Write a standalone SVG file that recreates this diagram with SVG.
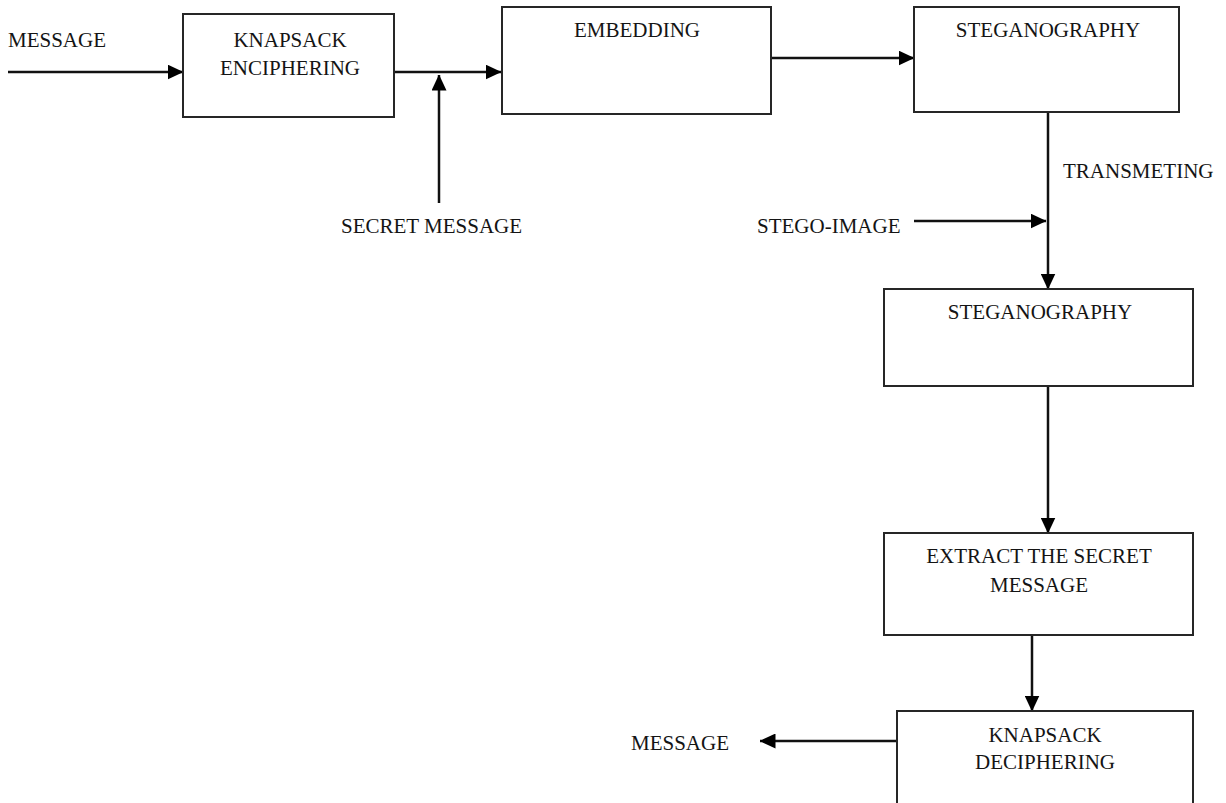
<svg xmlns="http://www.w3.org/2000/svg" width="1226" height="803" viewBox="0 0 1226 803">
<defs>
<style>
.box{fill:#fff;stroke:#262626;stroke-width:2}
.t{font-family:"Liberation Serif","Times New Roman",serif;font-size:21px;fill:#141414}
.c{text-anchor:middle}
.ln{stroke:#111;stroke-width:2.5;fill:none}
</style>
<marker id="ah" markerUnits="userSpaceOnUse" markerWidth="16" markerHeight="15" viewBox="0 0 16 15" refX="15.5" refY="7.5" orient="auto">
<path d="M0,0 L16,7.5 L0,15 Z" fill="#000"/>
</marker>
</defs>
<rect width="1226" height="803" fill="#fff"/>
<g id="connectors">
<line class="ln" x1="8" y1="72" x2="183" y2="72" marker-end="url(#ah)"/>
<line class="ln" x1="394" y1="72" x2="501" y2="72" marker-end="url(#ah)"/>
<line class="ln" x1="439" y1="203" x2="439" y2="75" marker-end="url(#ah)"/>
<line class="ln" x1="771" y1="58" x2="914" y2="58" marker-end="url(#ah)"/>
<line class="ln" x1="1048" y1="112" x2="1048" y2="289" marker-end="url(#ah)"/>
<line class="ln" x1="914" y1="221" x2="1046" y2="221" marker-end="url(#ah)"/>
<line class="ln" x1="1048" y1="386" x2="1048" y2="533" marker-end="url(#ah)"/>
<line class="ln" x1="1032" y1="635" x2="1032" y2="711" marker-end="url(#ah)"/>
<line class="ln" x1="897" y1="741" x2="760" y2="741" marker-end="url(#ah)"/>
</g>
<g id="msg-in"><text class="t" x="8" y="47">MESSAGE</text></g>
<g id="secret-msg"><text class="t" x="341" y="233">SECRET MESSAGE</text></g>
<g id="knapsack-enc">
<rect class="box" x="183" y="14" width="211" height="103"/>
<text class="t c" x="290" y="47">KNAPSACK</text>
<text class="t c" x="290" y="75">ENCIPHERING</text>
</g>
<g id="embedding">
<rect class="box" x="502" y="7" width="269" height="107"/>
<text class="t c" x="637" y="37">EMBEDDING</text>
</g>
<g id="stego1">
<rect class="box" x="914" y="7" width="265" height="105"/>
<text class="t c" x="1048" y="37">STEGANOGRAPHY</text>
</g>
<g id="transmeting"><text class="t" x="1063" y="178">TRANSMETING</text></g>
<g id="stego-image"><text class="t" x="757" y="233">STEGO-IMAGE</text></g>
<g id="stego2">
<rect class="box" x="884" y="289" width="309" height="97"/>
<text class="t c" x="1040" y="319">STEGANOGRAPHY</text>
</g>
<g id="extract">
<rect class="box" x="884" y="533" width="309" height="102"/>
<text class="t c" x="1039" y="563">EXTRACT THE SECRET</text>
<text class="t c" x="1039" y="592">MESSAGE</text>
</g>
<g id="knapsack-dec">
<rect class="box" x="897" y="711" width="296" height="110"/>
<text class="t c" x="1045" y="742">KNAPSACK</text>
<text class="t c" x="1045" y="769">DECIPHERING</text>
</g>
<g id="msg-out"><text class="t" x="631" y="750">MESSAGE</text></g>
</svg>
